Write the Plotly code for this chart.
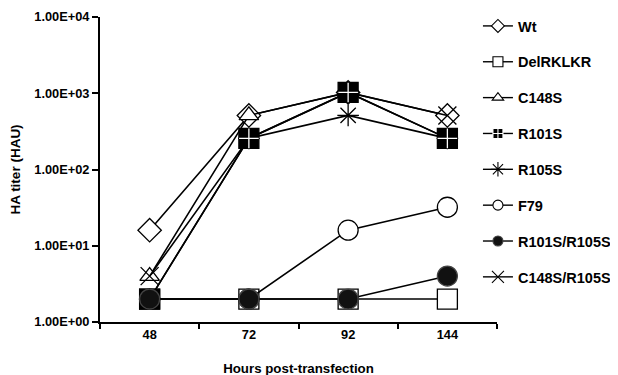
import plotly.graph_objects as go

hours = ["48", "72", "92", "144"]
wt = [16, 512, 1024, 512]
delrklkr = [2, 2, 2, 2]
c148s = [4, 512, 1024, 256]
r101s = [2, 256, 1024, 256]
r105s = [2, 256, 512, 256]
f79 = [2, 2, 16, 32]
r101s_r105s = [2, 2, 2, 4]
c148s_r105s = [4, 256, 1024, 512]

y_tickvals = [1, 10, 100, 1000, 10000]
y_ticktext = ["1.00E+00", "1.00E+01", "1.00E+02", "1.00E+03", "1.00E+04"]

FONT = "Arial, Liberation Sans, sans-serif"

# (name, values, symbol, size, fill, outline color, legend rank)
series = [
    ("Wt", wt, "diamond", 18, "white", "black", 1),
    ("C148S", c148s, "triangle-up", 17, "white", "black", 3),
    ("C148S/R105S", c148s_r105s, "x-thin", 18, "white", "black", 8),
    ("R105S", r105s, "asterisk", 18, "white", "black", 5),
    ("DelRKLKR", delrklkr, "square", 20, "white", "black", 2),
    ("R101S", r101s, "square", 20, "black", "black", 4),
    ("F79", f79, "circle", 20, "white", "black", 6),
    ("R101S/R105S", r101s_r105s, "circle", 20, "#111111", "#444444", 7),
]

fig = go.Figure()
for name, vals, sym, size, fill, lc, rank in series:
    fig.add_trace(go.Scatter(
        x=hours, y=vals, name=name, mode="lines+markers",
        line=dict(color="black", width=1.6),
        marker=dict(symbol=sym, size=size, color=fill,
                    line=dict(color=lc, width=1.3)),
        showlegend=False,
    ))
    if name == "R101S":
        # white cross inside the black square
        fig.add_trace(go.Scatter(
            x=hours, y=vals, mode="markers", showlegend=False, hoverinfo="skip",
            marker=dict(symbol="cross-thin", size=14, color="white",
                        line=dict(color="white", width=1.3)),
        ))

# legend-only entries with small markers
legend_symbols = {"R101S": ("square-cross", "black", "white")}
for name, vals, sym, size, fill, lc, rank in series:
    lsym, lfill, llc = legend_symbols.get(name, (sym, fill, lc))
    lsize = 10 if sym not in ("x-thin", "asterisk") else 12
    fig.add_trace(go.Scatter(
        x=[None], y=[None], name=name, mode="lines+markers",
        line=dict(color="black", width=1.4),
        marker=dict(symbol=lsym, size=lsize, color=lfill,
                    line=dict(color=llc, width=1.1)),
        legendrank=rank, legendgroup=name, showlegend=True,
    ))

fig.update_layout(
    width=618, height=375,
    margin=dict(l=92, r=129, t=9, b=61, autoexpand=False),
    paper_bgcolor="white", plot_bgcolor="white",
    font=dict(family=FONT, color="black", size=12, weight=700),
    showlegend=True,
    legend=dict(
        x=0.952, xanchor="left", y=1.023, yanchor="top",
        font=dict(family=FONT, size=14.5, weight=700),
        tracegroupgap=14, maxheight=400,
        bgcolor="rgba(0,0,0,0)",
    ),
    xaxis=dict(
        type="category", tickson="boundaries", ticks="outside", ticklen=5,
        tickwidth=2, tickcolor="black", automargin=False,
        showline=True, linecolor="black", linewidth=2, showgrid=False,
        range=[-0.5, 3.5],
        tickfont=dict(size=12.8, weight=700),
        title=dict(text="Hours post-transfection", font=dict(size=13.3, weight=700), standoff=22),
    ),
    yaxis=dict(
        type="log", range=[0, 4], tickvals=y_tickvals, ticktext=y_ticktext,
        ticks="outside", ticklen=6, tickwidth=2, tickcolor="black", automargin=False,
        showline=True, linecolor="black", linewidth=2, showgrid=False, zeroline=False,
        tickfont=dict(size=12.8, weight=700),
        title=dict(text="HA titer (HAU)", font=dict(size=13.5, weight=700), standoff=11),
    ),
)

fig.write_html("out.html")
